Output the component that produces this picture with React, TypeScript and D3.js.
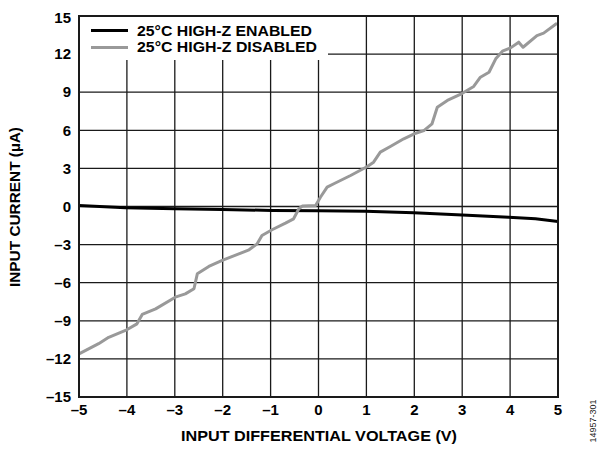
import React from "react";
import * as d3 from "d3";

const xTicks = [-5, -4, -3, -2, -1, 0, 1, 2, 3, 4, 5];
const yTicks = [-15, -12, -9, -6, -3, 0, 3, 6, 9, 12, 15];

const enabledV = [-5, -4.03, -3, -2.01, -0.97, 0, 0.98, 1.99, 3.0, 3.97, 4.53, 5];
const enabledI = [0.08, -0.1, -0.18, -0.24, -0.31, -0.33, -0.37, -0.5, -0.66, -0.84, -0.97, -1.18];

const disabledV = [-5, -4.59, -4.38, -4.03, -3.79, -3.68, -3.4, -2.99, -2.78, -2.6, -2.53, -2.29, -2.01, -1.45, -1.28, -1.18, -0.97, -0.69, -0.52, -0.41, -0.34, -0.06, 0.04, 0.18, 0.32, 0.67, 1.02, 1.15, 1.29, 1.5, 1.78, 2.03, 2.2, 2.37, 2.48, 2.69, 2.96, 3.24, 3.38, 3.56, 3.7, 3.84, 4.01, 4.18, 4.27, 4.56, 4.7, 4.98];
const disabledI = [-11.6, -10.8, -10.3, -9.76, -9.24, -8.5, -8.06, -7.14, -6.88, -6.48, -5.3, -4.72, -4.25, -3.41, -2.94, -2.28, -1.83, -1.31, -0.97, -0.18, 0.03, 0.08, 0.73, 1.52, 1.79, 2.44, 3.15, 3.49, 4.28, 4.72, 5.33, 5.77, 5.98, 6.51, 7.82, 8.35, 8.82, 9.45, 10.18, 10.57, 11.63, 12.23, 12.49, 12.94, 12.54, 13.46, 13.65, 14.43];

const seriesNames = ["25°C HIGH-Z ENABLED", "25°C HIGH-Z DISABLED"];
const fmt = (v: number) => (v < 0 ? "\u2013" + Math.abs(v) : String(v));

export default function App() {
  const W = 598, H = 450;
  const L = 79, R = 558, T = 16, B = 397;
  const x = d3.scaleLinear().domain([-5, 5]).range([L, R]);
  const y = d3.scaleLinear().domain([-15, 15]).range([B, T]);
  const line = d3.line<[number, number]>().x(d => x(d[0])).y(d => y(d[1])).curve(d3.curveLinear);
  const en = enabledV.map((v, i) => [v, enabledI[i]] as [number, number]);
  const dis = disabledV.map((v, i) => [v, disabledI[i]] as [number, number]);
  const font = "Liberation Sans, Arial, Helvetica, sans-serif";
  const legR = 328, legB = 60;
  return (
    <svg width={W} height={H} style={{ position: "absolute", left: 0, top: 0, background: "#fff" }} fontFamily={font}>
      <rect x={0} y={0} width={W} height={H} fill="#fff" />
      {xTicks.map(t => (
        <line key={"gx" + t} x1={x(t)} x2={x(t)} y1={T} y2={B} stroke="#1a1a1a" strokeWidth={1.3} />
      ))}
      {yTicks.map(t => (
        <line key={"gy" + t} x1={L} x2={R} y1={y(t)} y2={y(t)} stroke="#1a1a1a" strokeWidth={1.3} />
      ))}
      <path d={line(en) || ""} fill="none" stroke="#000" strokeWidth={3} strokeLinejoin="round" />
      <path d={line(dis) || ""} fill="none" stroke="#999" strokeWidth={3} strokeLinejoin="round" />
      <rect x={L} y={T} width={legR - L} height={legB - T} fill="#fff" />
      <line x1={91} x2={128} y1={30.5} y2={30.5} stroke="#000" strokeWidth={3} />
      <line x1={91} x2={128} y1={47.5} y2={47.5} stroke="#999" strokeWidth={3} />
      <text x={137} y={31} dy="0.35em" fontSize={14} fontWeight="bold" textLength={175} lengthAdjust="spacingAndGlyphs">{seriesNames[0]}</text>
      <text x={137} y={47.5} dy="0.35em" fontSize={14} fontWeight="bold" textLength={180} lengthAdjust="spacingAndGlyphs">{seriesNames[1]}</text>
      <rect x={L} y={T} width={R - L} height={B - T} fill="none" stroke="#1a1a1a" strokeWidth={2} />
      {yTicks.map(t => (
        <text key={"ty" + t} x={71} y={t === 15 ? y(t) + 2 : y(t)} dy="0.35em" textAnchor="end" fontSize={15} fontWeight="bold">{fmt(t)}</text>
      ))}
      {xTicks.map(t => (
        <text key={"tx" + t} x={x(t)} y={410} dy="0.35em" textAnchor="middle" fontSize={15} fontWeight="bold">{fmt(t)}</text>
      ))}
      <text x={319} y={436} dy="0.35em" textAnchor="middle" fontSize={15} fontWeight="bold" textLength={276} lengthAdjust="spacingAndGlyphs">INPUT DIFFERENTIAL VOLTAGE (V)</text>
      <text transform={`translate(15,207) rotate(-90)`} dy="0.35em" textAnchor="middle" fontSize={15} fontWeight="bold" textLength={160} lengthAdjust="spacingAndGlyphs">INPUT CURRENT (µA)</text>
      <text transform={`translate(593,421) rotate(-90)`} dy="0.35em" textAnchor="middle" fontSize={9} fill="#222">14957-301</text>
    </svg>
  );
}
